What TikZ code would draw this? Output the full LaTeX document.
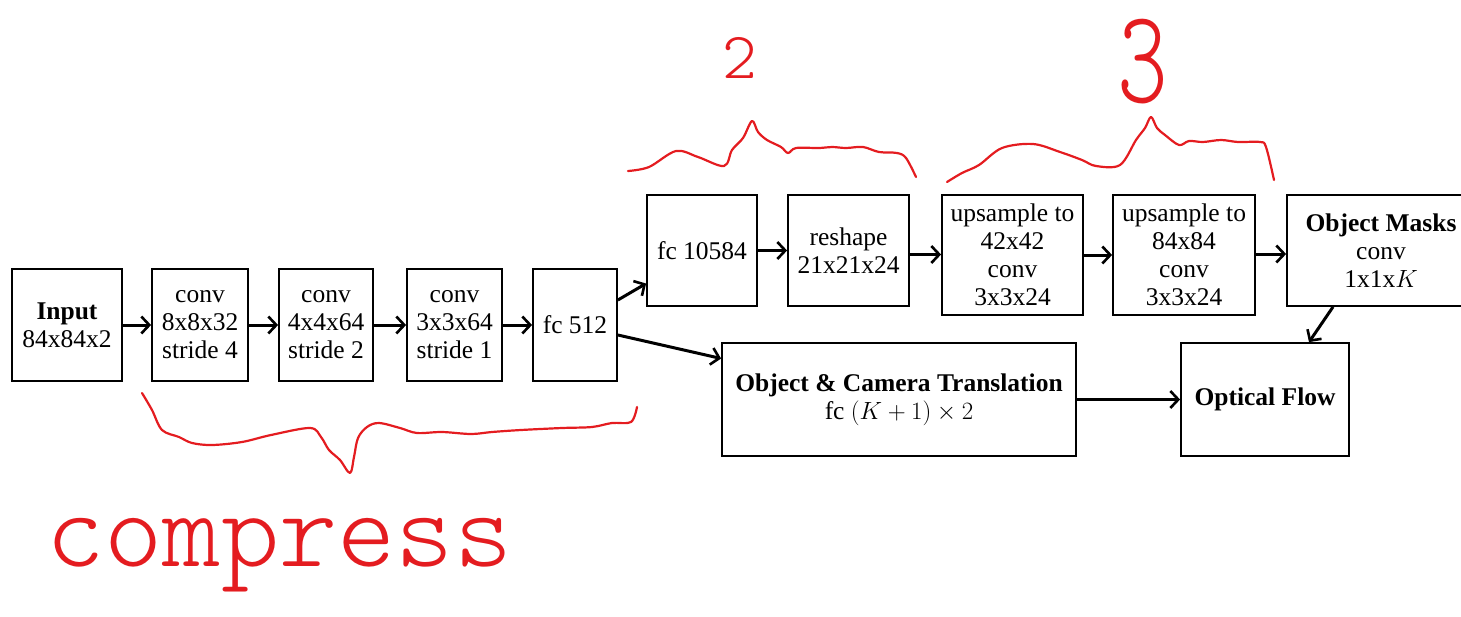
\documentclass[tikz,border=0pt]{standalone}
\usepackage[no-math]{fontspec}
\setmainfont{Liberation Serif}
\newfontfamily\hand{lmmonolt10-regular.otf}
\usetikzlibrary{arrows.meta}
\definecolor{pen}{RGB}{228,28,32}
\tikzset{
  box/.style={draw, line width=1.8pt, inner sep=0pt, align=center,
    font=\fontsize{25.5}{28}\selectfont},
  flow/.style={line width=3pt, -{Straight Barb[length=8pt,width=17pt,line width=2.6pt]}},
  ink/.style={pen, line width=2.2pt, line cap=round, line join=round},
  inktext/.style={pen, inner sep=0pt}
}
\begin{document}
\begin{tikzpicture}[x=1pt,y=-1pt]
\useasboundingbox (0,0) rectangle (1461,616);
% encoder
\node[box, minimum width=110pt, minimum height=112pt] (inp) at (67,325) {\textbf{Input}\\84x84x2};
\node[box, minimum width=96pt, minimum height=112pt] (c1) at (200,325) {conv\\8x8x32\\stride 4};
\node[box, minimum width=94pt, minimum height=112pt] (c2) at (326,325) {conv\\4x4x64\\stride 2};
\node[box, minimum width=95pt, minimum height=112pt] (c3) at (454.5,325) {conv\\3x3x64\\stride 1};
\node[box, minimum width=84pt, minimum height=112pt] (fc) at (575,325) {fc 512};
% decoder
\node[box, minimum width=110pt, minimum height=111pt] (fcb) at (702,250.5) {fc 10584};
\node[box, minimum width=121pt, minimum height=111pt] (rs) at (848.5,250.5) {reshape\\21x21x24};
\node[box, minimum width=141pt, minimum height=120pt] (u1) at (1012.5,255) {upsample to\\42x42\\conv\\3x3x24};
\node[box, minimum width=142pt, minimum height=120pt] (u2) at (1184,255) {upsample to\\84x84\\conv\\3x3x24};
\node[box, minimum width=188pt, minimum height=111pt] (om) at (1381,250.5) {\textbf{Object Masks}\\conv\\1x1x$K$};
\node[box, minimum width=354pt, minimum height=113pt] (oc) at (899,399.5) {\raisebox{3pt}{\textbf{Object \& Camera Translation}}\\\raisebox{3pt}{fc $(K+1)\times 2$}};
\node[box, minimum width=168pt, minimum height=113pt] (of) at (1265,399.5) {\textbf{Optical Flow}};
% connectors
\draw[flow] (inp) -- (c1);
\draw[flow] (c1) -- (c2);
\draw[flow] (c2) -- (c3);
\draw[flow] (c3) -- (fc);
\draw[flow] ([yshift=25pt]fc.east) -- ([yshift=-33pt]fcb.west);
\draw[flow] ([yshift=-10pt]fc.east) -- ([yshift=41pt]oc.west);
\draw[flow] (fcb) -- (rs);
\draw[flow] ([yshift=-4pt]rs.east) -- ([yshift=-4pt]rs.east -| u1.west);
\draw[flow] (u1) -- (u2);
\draw[flow] ([yshift=1pt]u2.east) -- ([yshift=1pt]u2.east -| om.west);
\draw[flow] (oc) -- (of);
\draw[flow] ([xshift=-48pt]om.south) -- ([xshift=44pt]of.north);
% red annotations
\draw[ink] plot[smooth, tension=0.55] coordinates {(628,171) (649,167) (676,151) (698,157) (724,166) (732,150) (743,138) (752,121) (758,132) (767,140) (781,147) (788,153) (796,148) (819,148) (832,147) (846,148) (863,147) (879,152) (897,153) (906,158) (916,177)};
\draw[ink] plot[smooth, tension=0.55] coordinates {(947,182) (962,173) (979,165) (1002,148) (1033,144) (1060,152) (1082,160) (1096,166) (1120,165) (1136,140) (1145,128) (1151,117) (1157,128) (1165,135) (1179,145) (1189,141) (1203,142) (1221,140) (1238,142) (1260,142) (1266,147) (1274,180)};
\draw[ink] plot[smooth, tension=0.55] coordinates {(142,393) (152,410) (162,430) (179,437) (192,443) (212,445) (242,442) (271,435) (310,428) (321,437) (329,450) (340,460) (350,473) (354,457) (358,438) (367,427) (379,423) (400,428) (417,433) (442,432) (471,434) (492,432) (521,430) (562,428) (592,427) (612,423) (631,422) (637,407)};
\node[inktext, anchor=base west, font=\hand\fontsize{111}{111}\selectfont] (cmp) at (46,566) {compress};
\node[inktext, font=\hand\fontsize{66}{66}\selectfont] (two) at (740,58) {2};
\node[inktext, anchor=base, font=\hand\fontsize{134}{134}\selectfont] (three) at (1143,102) {\scalebox{0.72}[1]{3}};
\end{tikzpicture}
\end{document}
